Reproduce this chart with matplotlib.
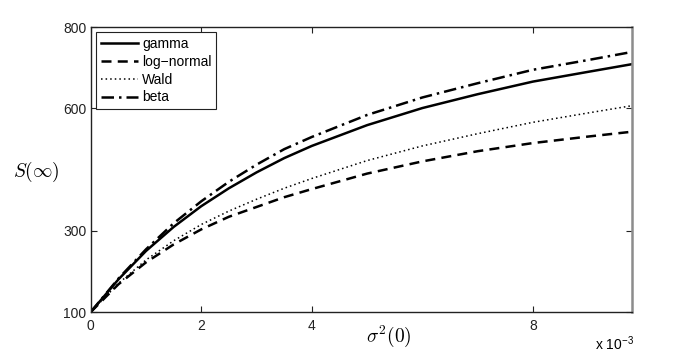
import numpy as np
import matplotlib
matplotlib.use('Agg')
import matplotlib.pyplot as plt
from matplotlib import font_manager as fm

# keep the regular (not narrow) Liberation Sans
fm.fontManager.ttflist = [f for f in fm.fontManager.ttflist if 'Narrow' not in f.fname]
plt.rcParams['font.family'] = ['Liberation Sans', 'DejaVu Sans']
plt.rcParams['mathtext.fontset'] = 'cm'

# sigma^2(0) in units of 1e-3
x_vals    = [0.0, 0.5, 1.0, 1.5, 2.0, 2.5, 3.0, 3.5, 4.0, 5.0, 6.0, 7.0, 8.0, 9.0, 9.8]
gamma     = [100, 180, 250, 309, 360, 404, 443, 478, 508, 559, 601, 635, 666, 690, 709]
lognormal = [100, 168, 222, 266, 303, 334, 358, 382, 402, 440, 470, 495, 515, 531, 543]
wald      = [100, 170, 228, 275, 315, 348, 377, 404, 428, 472, 508, 538, 566, 589, 607]
beta      = [100, 182, 254, 318, 372, 420, 462, 500, 530, 584, 627, 662, 695, 719, 739]

x = np.array(x_vals) * 1e-3

fig = plt.figure(figsize=(6.98, 3.54), dpi=100)
ax = fig.add_axes([0.130, 0.1186, 0.776, 0.805])

ax.plot(x, gamma, 'k-', lw=1.8, label='gamma')
ax.plot(x, lognormal, 'k--', lw=1.8, dashes=(4, 2.5), label='log\u2212normal')
ax.plot(x, wald, 'k:', lw=1.1, dashes=(1, 2), label='Wald')
ax.plot(x, beta, 'k-.', lw=1.8, dashes=(5, 2, 1, 2), label='beta')

ax.set_xlim(0, 0.0098)
ax.set_ylim(100, 800)
ax.set_xticks([0, 0.002, 0.004, 0.008])
ax.set_xticklabels(['0', '2', '4', '8'])
ax.set_yticks([100, 300, 600, 800])
ax.tick_params(direction='in', top=True, right=True, length=4, width=0.8,
               labelsize=10, colors='#222222')
ax.tick_params(axis='x', pad=5)
ax.tick_params(axis='y', pad=3)

for side in ['left', 'top', 'bottom']:
    ax.spines[side].set_linewidth(1.0)
    ax.spines[side].set_color('#222222')
ax.spines['right'].set_linewidth(1.8)
ax.spines['right'].set_color('#8c8c8c')

ax.set_ylabel(r'$S(\infty)$', rotation=0, fontsize=14)
ax.yaxis.set_label_coords(-0.101, 0.45)
ax.set_xlabel(r'$\sigma^2(0)$', fontsize=14)
ax.xaxis.set_label_coords(0.55, -0.04)

fig.text(0.852, 0.012, r'x 10$^{\mathregular{-3}}$', fontsize=10)

leg = ax.legend(loc='upper left', fontsize=10, handlelength=2.66,
                borderpad=0.35, labelspacing=0.27, handletextpad=0.3,
                fancybox=False, framealpha=1, edgecolor='#222222',
                borderaxespad=0.38)
leg.get_frame().set_linewidth(0.8)

fig.savefig('out.png', dpi=100)
